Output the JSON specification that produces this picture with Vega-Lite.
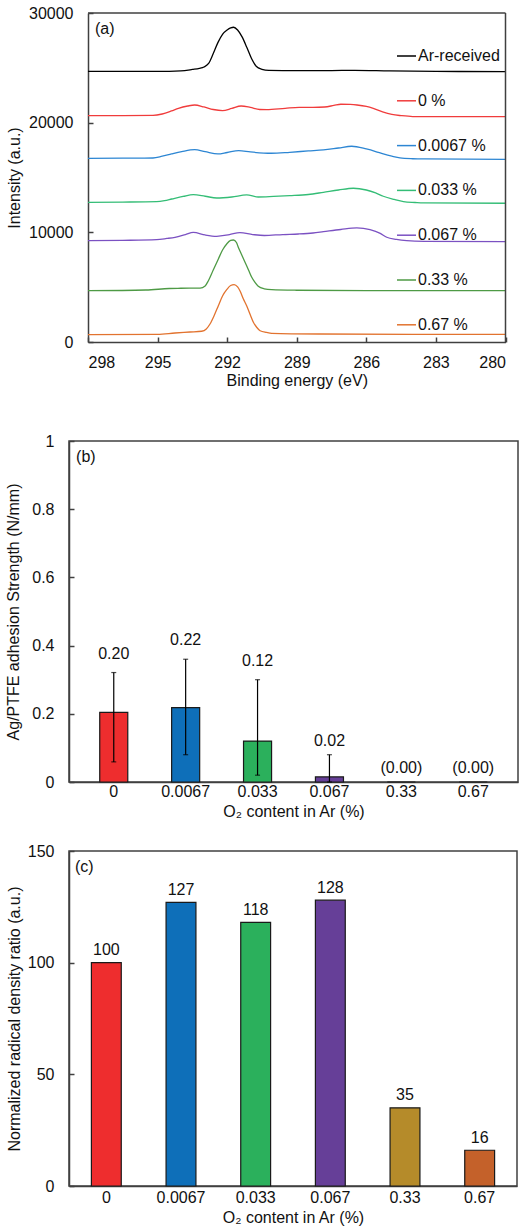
{
  "$schema": "https://vega.github.io/schema/vega-lite/v6.json",
  "padding": {"top": 5, "left": 5, "right": 0, "bottom": 0},
  "background": "white",
  "datasets": {
    "xps": [
      {"s": "Ar-received", "eV": 298, "I": 24670}, {"s": "Ar-received", "eV": 296.5, "I": 24680}, {"s": "Ar-received", "eV": 295, "I": 24670}, {"s": "Ar-received", "eV": 294, "I": 24720}, {"s": "Ar-received", "eV": 293.5, "I": 24850}, {"s": "Ar-received", "eV": 293.2, "I": 24950}, {"s": "Ar-received", "eV": 293.0, "I": 25080}, {"s": "Ar-received", "eV": 292.8, "I": 25400}, {"s": "Ar-received", "eV": 292.6, "I": 26300}, {"s": "Ar-received", "eV": 292.4, "I": 27300}, {"s": "Ar-received", "eV": 292.2, "I": 28050}, {"s": "Ar-received", "eV": 292.0, "I": 28450}, {"s": "Ar-received", "eV": 291.85, "I": 28640}, {"s": "Ar-received", "eV": 291.72, "I": 28700}, {"s": "Ar-received", "eV": 291.55, "I": 28450}, {"s": "Ar-received", "eV": 291.35, "I": 27800}, {"s": "Ar-received", "eV": 291.15, "I": 26850}, {"s": "Ar-received", "eV": 290.95, "I": 25850}, {"s": "Ar-received", "eV": 290.75, "I": 25150}, {"s": "Ar-received", "eV": 290.5, "I": 24870}, {"s": "Ar-received", "eV": 290.2, "I": 24770}, {"s": "Ar-received", "eV": 289, "I": 24740}, {"s": "Ar-received", "eV": 287.5, "I": 24750}, {"s": "Ar-received", "eV": 286.5, "I": 24770}, {"s": "Ar-received", "eV": 285, "I": 24720}, {"s": "Ar-received", "eV": 283, "I": 24680}, {"s": "Ar-received", "eV": 280, "I": 24650},

      {"s": "0 %", "eV": 298, "I": 20640}, {"s": "0 %", "eV": 296.5, "I": 20650}, {"s": "0 %", "eV": 295.2, "I": 20660}, {"s": "0 %", "eV": 294.8, "I": 20790}, {"s": "0 %", "eV": 294.4, "I": 21070}, {"s": "0 %", "eV": 294.1, "I": 21310}, {"s": "0 %", "eV": 293.7, "I": 21520}, {"s": "0 %", "eV": 293.4, "I": 21610}, {"s": "0 %", "eV": 293.0, "I": 21430}, {"s": "0 %", "eV": 292.6, "I": 21200}, {"s": "0 %", "eV": 292.2, "I": 21100}, {"s": "0 %", "eV": 291.8, "I": 21300}, {"s": "0 %", "eV": 291.4, "I": 21520}, {"s": "0 %", "eV": 291.0, "I": 21390}, {"s": "0 %", "eV": 290.6, "I": 21200}, {"s": "0 %", "eV": 290.3, "I": 21190}, {"s": "0 %", "eV": 289.5, "I": 21310}, {"s": "0 %", "eV": 288.9, "I": 21390}, {"s": "0 %", "eV": 288.3, "I": 21390}, {"s": "0 %", "eV": 287.8, "I": 21430}, {"s": "0 %", "eV": 287.4, "I": 21570}, {"s": "0 %", "eV": 287.1, "I": 21680}, {"s": "0 %", "eV": 286.7, "I": 21660}, {"s": "0 %", "eV": 286.4, "I": 21610}, {"s": "0 %", "eV": 286.0, "I": 21480}, {"s": "0 %", "eV": 285.7, "I": 21300}, {"s": "0 %", "eV": 285.3, "I": 20980}, {"s": "0 %", "eV": 284.9, "I": 20750}, {"s": "0 %", "eV": 284.5, "I": 20640}, {"s": "0 %", "eV": 284.0, "I": 20560}, {"s": "0 %", "eV": 283.0, "I": 20550}, {"s": "0 %", "eV": 280, "I": 20550},

      {"s": "0.0067 %", "eV": 298, "I": 16750}, {"s": "0.0067 %", "eV": 296.5, "I": 16760}, {"s": "0.0067 %", "eV": 295.2, "I": 16780}, {"s": "0.0067 %", "eV": 294.8, "I": 16940}, {"s": "0.0067 %", "eV": 294.4, "I": 17150}, {"s": "0.0067 %", "eV": 293.96, "I": 17360}, {"s": "0.0067 %", "eV": 293.4, "I": 17540}, {"s": "0.0067 %", "eV": 292.95, "I": 17360}, {"s": "0.0067 %", "eV": 292.4, "I": 17150}, {"s": "0.0067 %", "eV": 292.0, "I": 17280}, {"s": "0.0067 %", "eV": 291.5, "I": 17450}, {"s": "0.0067 %", "eV": 291.0, "I": 17330}, {"s": "0.0067 %", "eV": 290.1, "I": 17210}, {"s": "0.0067 %", "eV": 289.3, "I": 17300}, {"s": "0.0067 %", "eV": 288.5, "I": 17420}, {"s": "0.0067 %", "eV": 287.85, "I": 17510}, {"s": "0.0067 %", "eV": 287.2, "I": 17690}, {"s": "0.0067 %", "eV": 286.63, "I": 17850}, {"s": "0.0067 %", "eV": 286.0, "I": 17600}, {"s": "0.0067 %", "eV": 285.6, "I": 17370}, {"s": "0.0067 %", "eV": 285.27, "I": 17150}, {"s": "0.0067 %", "eV": 284.9, "I": 16940}, {"s": "0.0067 %", "eV": 284.55, "I": 16780}, {"s": "0.0067 %", "eV": 284.0, "I": 16710}, {"s": "0.0067 %", "eV": 283.5, "I": 16690}, {"s": "0.0067 %", "eV": 280, "I": 16660},

      {"s": "0.033 %", "eV": 298, "I": 12740}, {"s": "0.033 %", "eV": 296.5, "I": 12760}, {"s": "0.033 %", "eV": 295.04, "I": 12800}, {"s": "0.033 %", "eV": 294.7, "I": 12890}, {"s": "0.033 %", "eV": 294.39, "I": 13040}, {"s": "0.033 %", "eV": 293.9, "I": 13270}, {"s": "0.033 %", "eV": 293.46, "I": 13430}, {"s": "0.033 %", "eV": 292.95, "I": 13290}, {"s": "0.033 %", "eV": 292.45, "I": 13130}, {"s": "0.033 %", "eV": 291.8, "I": 13220}, {"s": "0.033 %", "eV": 291.16, "I": 13410}, {"s": "0.033 %", "eV": 290.66, "I": 13220}, {"s": "0.033 %", "eV": 290.0, "I": 13270}, {"s": "0.033 %", "eV": 289.3, "I": 13340}, {"s": "0.033 %", "eV": 288.5, "I": 13450}, {"s": "0.033 %", "eV": 287.85, "I": 13650}, {"s": "0.033 %", "eV": 287.2, "I": 13860}, {"s": "0.033 %", "eV": 286.56, "I": 14020}, {"s": "0.033 %", "eV": 286.0, "I": 13860}, {"s": "0.033 %", "eV": 285.6, "I": 13590}, {"s": "0.033 %", "eV": 285.27, "I": 13290}, {"s": "0.033 %", "eV": 284.8, "I": 13000}, {"s": "0.033 %", "eV": 284.4, "I": 12800}, {"s": "0.033 %", "eV": 283.9, "I": 12720}, {"s": "0.033 %", "eV": 283.54, "I": 12680}, {"s": "0.033 %", "eV": 280, "I": 12650},

      {"s": "0.067 %", "eV": 298, "I": 9240}, {"s": "0.067 %", "eV": 296.5, "I": 9270}, {"s": "0.067 %", "eV": 295.04, "I": 9330}, {"s": "0.067 %", "eV": 294.6, "I": 9440}, {"s": "0.067 %", "eV": 294.25, "I": 9550}, {"s": "0.067 %", "eV": 293.8, "I": 9800}, {"s": "0.067 %", "eV": 293.46, "I": 10000}, {"s": "0.067 %", "eV": 292.95, "I": 9760}, {"s": "0.067 %", "eV": 292.45, "I": 9640}, {"s": "0.067 %", "eV": 291.9, "I": 9800}, {"s": "0.067 %", "eV": 291.45, "I": 9970}, {"s": "0.067 %", "eV": 290.9, "I": 9800}, {"s": "0.067 %", "eV": 290.4, "I": 9710}, {"s": "0.067 %", "eV": 289.6, "I": 9800}, {"s": "0.067 %", "eV": 288.93, "I": 9850}, {"s": "0.067 %", "eV": 288.3, "I": 9940}, {"s": "0.067 %", "eV": 287.85, "I": 10060}, {"s": "0.067 %", "eV": 287.1, "I": 10260}, {"s": "0.067 %", "eV": 286.41, "I": 10400}, {"s": "0.067 %", "eV": 285.84, "I": 10240}, {"s": "0.067 %", "eV": 285.4, "I": 9900}, {"s": "0.067 %", "eV": 285.12, "I": 9550}, {"s": "0.067 %", "eV": 284.7, "I": 9350}, {"s": "0.067 %", "eV": 284.26, "I": 9240}, {"s": "0.067 %", "eV": 283.5, "I": 9180}, {"s": "0.067 %", "eV": 280, "I": 9150},

      {"s": "0.33 %", "eV": 298, "I": 4680}, {"s": "0.33 %", "eV": 295.5, "I": 4740}, {"s": "0.33 %", "eV": 294.5, "I": 4880}, {"s": "0.33 %", "eV": 294.0, "I": 4900}, {"s": "0.33 %", "eV": 293.17, "I": 4920}, {"s": "0.33 %", "eV": 292.95, "I": 5110}, {"s": "0.33 %", "eV": 292.81, "I": 5590}, {"s": "0.33 %", "eV": 292.6, "I": 6570}, {"s": "0.33 %", "eV": 292.38, "I": 7570}, {"s": "0.33 %", "eV": 292.2, "I": 8390}, {"s": "0.33 %", "eV": 292.02, "I": 8940}, {"s": "0.33 %", "eV": 291.85, "I": 9260}, {"s": "0.33 %", "eV": 291.73, "I": 9300}, {"s": "0.33 %", "eV": 291.6, "I": 9070}, {"s": "0.33 %", "eV": 291.52, "I": 8640}, {"s": "0.33 %", "eV": 291.37, "I": 7930}, {"s": "0.33 %", "eV": 291.23, "I": 7270}, {"s": "0.33 %", "eV": 291.08, "I": 6570}, {"s": "0.33 %", "eV": 290.94, "I": 5900}, {"s": "0.33 %", "eV": 290.8, "I": 5430}, {"s": "0.33 %", "eV": 290.66, "I": 5080}, {"s": "0.33 %", "eV": 290.4, "I": 4850}, {"s": "0.33 %", "eV": 290.08, "I": 4770}, {"s": "0.33 %", "eV": 289, "I": 4720}, {"s": "0.33 %", "eV": 286, "I": 4680}, {"s": "0.33 %", "eV": 280, "I": 4680},

      {"s": "0.67 %", "eV": 298, "I": 670}, {"s": "0.67 %", "eV": 295, "I": 700}, {"s": "0.67 %", "eV": 294.25, "I": 820}, {"s": "0.67 %", "eV": 293.6, "I": 910}, {"s": "0.67 %", "eV": 293.1, "I": 980}, {"s": "0.67 %", "eV": 292.9, "I": 1190}, {"s": "0.67 %", "eV": 292.74, "I": 1640}, {"s": "0.67 %", "eV": 292.55, "I": 2460}, {"s": "0.67 %", "eV": 292.38, "I": 3310}, {"s": "0.67 %", "eV": 292.2, "I": 4200}, {"s": "0.67 %", "eV": 292.02, "I": 4770}, {"s": "0.67 %", "eV": 291.85, "I": 5150}, {"s": "0.67 %", "eV": 291.7, "I": 5230}, {"s": "0.67 %", "eV": 291.55, "I": 5020}, {"s": "0.67 %", "eV": 291.45, "I": 4680}, {"s": "0.67 %", "eV": 291.3, "I": 3920}, {"s": "0.67 %", "eV": 291.16, "I": 3310}, {"s": "0.67 %", "eV": 291.0, "I": 2460}, {"s": "0.67 %", "eV": 290.87, "I": 1800}, {"s": "0.67 %", "eV": 290.72, "I": 1320}, {"s": "0.67 %", "eV": 290.58, "I": 1030}, {"s": "0.67 %", "eV": 290.3, "I": 870}, {"s": "0.67 %", "eV": 290.08, "I": 790}, {"s": "0.67 %", "eV": 288, "I": 730}, {"s": "0.67 %", "eV": 284, "I": 700}, {"s": "0.67 %", "eV": 280, "I": 700}
    ],
    "adh": [
      {"o2": "0", "v": 0.204, "lo": 0.059, "hi": 0.321, "lab": "0.20"},
      {"o2": "0.0067", "v": 0.218, "lo": 0.080, "hi": 0.360, "lab": "0.22"},
      {"o2": "0.033", "v": 0.120, "lo": 0.020, "hi": 0.300, "lab": "0.12"},
      {"o2": "0.067", "v": 0.015, "lo": 0.0, "hi": 0.080, "lab": "0.02"},
      {"o2": "0.33", "v": 0.0, "lo": 0.0, "hi": 0.0, "lab": "(0.00)"},
      {"o2": "0.67", "v": 0.0, "lo": 0.0, "hi": 0.0, "lab": "(0.00)"}
    ],
    "rad": [
      {"o2": "0", "v": 100},
      {"o2": "0.0067", "v": 127},
      {"o2": "0.033", "v": 118},
      {"o2": "0.067", "v": 128},
      {"o2": "0.33", "v": 35},
      {"o2": "0.67", "v": 16}
    ],
    "one": [{}]
  },
  "columns": 1,
  "spacing": 44,
  "concat": [
    {
      "width": 436.5,
      "height": 329,
      "view": {"stroke": null},
      "layer": [
        {
          "data": {"name": "xps"},
          "mark": {"type": "line", "strokeWidth": 1.3, "interpolate": "monotone"},
          "encoding": {
            "x": {"field": "eV", "type": "quantitative",
              "scale": {"domain": [280, 298], "reverse": true, "nice": false, "zero": false, "range": [19, 436.5]},
              "axis": {"values": [298, 295, 292, 289, 286, 283, 280], "format": "d", "tickSize": -5, "labelPadding": 17, "title": "Binding energy (eV)", "titlePadding": 2}},
            "y": {"field": "I", "type": "quantitative",
              "scale": {"domain": [0, 30000], "nice": false},
              "axis": {"values": [0, 10000, 20000, 30000], "format": "d", "tickSize": -5, "labelPadding": 20, "offset": -19, "title": "Intensity (a.u.)", "titlePadding": 6}},
            "color": {"field": "s", "type": "nominal",
              "scale": {"domain": ["Ar-received", "0 %", "0.0067 %", "0.033 %", "0.067 %", "0.33 %", "0.67 %"],
                        "range": ["#000000", "#f03c3c", "#2d86d3", "#34bd76", "#7b51c2", "#4e9a45", "#e2732f"]},
              "legend": {"orient": "none", "legendX": 327, "legendY": 32.5, "title": null, "symbolType": "stroke", "symbolSize": 361, "symbolStrokeWidth": 1.5, "labelFontSize": 16, "labelFont": "Liberation Sans", "labelColor": "#111", "labelOffset": 1, "rowPadding": 25.8, "padding": 0}},
            "order": {"field": "eV", "type": "quantitative", "sort": "descending"}
          }
        },
        {
          "data": {"name": "one"},
          "mark": {"type": "rule", "color": "#404040", "strokeWidth": 1.5},
          "encoding": {"x": {"datum": 298}, "x2": {"datum": 280}, "y": {"datum": 30000}}
        },
        {
          "data": {"name": "one"},
          "mark": {"type": "rule", "color": "#404040", "strokeWidth": 1.5},
          "encoding": {"x": {"datum": 280}, "y": {"datum": 0}, "y2": {"datum": 30000}}
        },
        {
          "data": {"name": "one"},
          "mark": {"type": "text", "text": "(a)", "align": "left", "baseline": "middle", "fontSize": 16},
          "encoding": {"x": {"datum": 297.7}, "y": {"datum": 28550}}
        }
      ]
    },
    {
      "columns": 1,
      "spacing": 22,
      "concat": [
        {
          "width": 449,
          "height": 341,
          "data": {"name": "adh"},
          "encoding": {
            "x": {"field": "o2", "type": "ordinal", "sort": null,
              "scale": {"paddingInner": 0.61, "paddingOuter": 0.4275},
              "axis": {"labelAngle": 0, "ticks": false, "labelPadding": 1, "title": "O₂ content in Ar (%)", "titlePadding": 4}}
          },
          "layer": [
            {
              "mark": {"type": "bar", "stroke": "#1a1a1a", "strokeWidth": 1.2},
              "encoding": {
                "y": {"field": "v", "type": "quantitative",
                  "scale": {"domain": [0, 1], "nice": false},
                  "axis": {"values": [0, 0.2, 0.4, 0.6, 0.8, 1], "format": "~g", "tickSize": -5, "labelPadding": 20, "title": "Ag/PTFE adhesion Strength (N/mm)", "titlePadding": 10}},
                "color": {"field": "o2", "type": "nominal",
                  "scale": {"domain": ["0", "0.0067", "0.033", "0.067", "0.33", "0.67"], "range": ["#ee2d2e", "#0e6fb9", "#2bb05c", "#663f98", "#b58b2a", "#c4612a"]},
                  "legend": null}
              }
            },
            {
              "transform": [{"filter": "datum.hi > 0"}],
              "mark": {"type": "errorbar", "color": "#000000", "thickness": 1.2, "ticks": {"size": 5, "color": "#000000", "thickness": 1.2}},
              "encoding": {
                "y": {"field": "lo", "type": "quantitative", "title": "Ag/PTFE adhesion Strength (N/mm)"},
                "y2": {"field": "hi"}
              }
            },
            {
              "transform": [{"filter": "datum.hi >= 0.1"}],
              "mark": {"type": "text", "baseline": "middle", "dy": -19, "fontSize": 16},
              "encoding": {"y": {"field": "hi", "type": "quantitative", "title": "Ag/PTFE adhesion Strength (N/mm)"}, "text": {"field": "lab"}}
            },
            {
              "transform": [{"filter": "datum.hi < 0.1"}],
              "mark": {"type": "text", "baseline": "middle", "dy": -14, "fontSize": 16},
              "encoding": {"y": {"field": "hi", "type": "quantitative", "title": "Ag/PTFE adhesion Strength (N/mm)"}, "text": {"field": "lab"}}
            },
            {
              "data": {"name": "one"},
              "mark": {"type": "text", "text": "(b)", "align": "left", "baseline": "middle", "dx": -37.7, "fontSize": 16},
              "encoding": {"x": {"datum": "0"}, "y": {"datum": 0.953}}
            }
          ]
        },
        {
          "width": 448,
          "height": 335,
          "data": {"name": "rad"},
          "encoding": {
            "x": {"field": "o2", "type": "ordinal", "sort": null,
              "scale": {"paddingInner": 0.6, "paddingOuter": 0.3},
              "axis": {"labelAngle": 0, "ticks": false, "labelPadding": 3, "title": "O₂ content in Ar (%)", "titlePadding": 4}}
          },
          "layer": [
            {
              "mark": {"type": "bar", "stroke": "#1a1a1a", "strokeWidth": 1.2},
              "encoding": {
                "y": {"field": "v", "type": "quantitative",
                  "scale": {"domain": [0, 150], "nice": false},
                  "axis": {"values": [0, 50, 100, 150], "format": "d", "tickSize": -5, "labelPadding": 20, "title": "Normalized radical density ratio (a.u.)", "titlePadding": 5}},
                "color": {"field": "o2", "type": "nominal",
                  "scale": {"domain": ["0", "0.0067", "0.033", "0.067", "0.33", "0.67"], "range": ["#ee2d2e", "#0e6fb9", "#2bb05c", "#663f98", "#b58b2a", "#c4612a"]},
                  "legend": null}
              }
            },
            {
              "mark": {"type": "text", "baseline": "middle", "dy": -12.5, "fontSize": 16},
              "encoding": {"y": {"field": "v", "type": "quantitative", "title": "Normalized radical density ratio (a.u.)"}, "text": {"field": "v", "type": "quantitative", "format": "d"}}
            },
            {
              "data": {"name": "one"},
              "mark": {"type": "text", "text": "(c)", "align": "left", "baseline": "middle", "dx": -31.4, "fontSize": 16},
              "encoding": {"x": {"datum": "0"}, "y": {"datum": 142.9}}
            }
          ]
        }
      ]
    }
  ],
  "resolve": {"scale": {"color": "independent", "x": "independent", "y": "independent"}},
  "config": {
    "font": "Liberation Sans",
    "view": {"stroke": "#404040", "strokeWidth": 1.5},
    "axis": {"labelFont": "Liberation Sans", "labelFontSize": 16, "labelColor": "#111111", "titleFont": "Liberation Sans", "titleFontSize": 16, "titleFontWeight": "normal", "titleColor": "#111111", "domainColor": "#404040", "domainWidth": 1.5, "tickColor": "#404040", "tickWidth": 1.5, "grid": false},
    "text": {"font": "Liberation Sans", "fontSize": 16, "color": "#111111"}
  }
}
